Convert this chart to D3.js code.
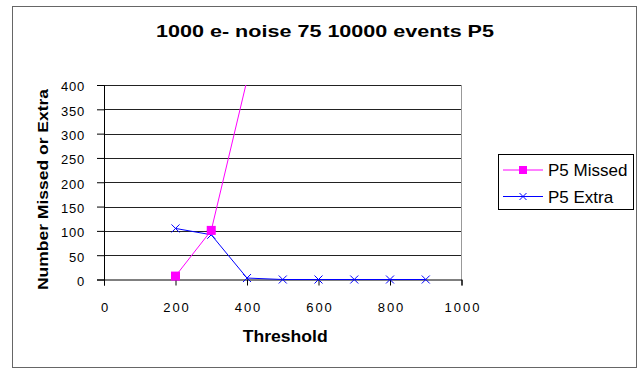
<!DOCTYPE html>
<html>
<head>
<meta charset="utf-8">
<script src="https://cdn.jsdelivr.net/npm/d3@7"></script>
<style>
  body { margin: 0; background: #fff; }
  text { font-family: "Liberation Sans", Arial, sans-serif; }
</style>
</head>
<body>
<div class="chart"></div>
<script>

var thresholds = [200, 300, 400, 500, 600, 700, 800, 900];
var missedValues = [7, 101, 410];          // only first three thresholds, line leaves the plot after that
var extraValues = [105, 92, 3, 0, 0, 0, 0, 0];

var xTicks = [0, 200, 400, 600, 800, 1000];
var yTicks = [0, 50, 100, 150, 200, 250, 300, 350, 400];

var seriesNames = ["P5 Missed", "P5 Extra"];

var width = 641, height = 369;

var svg = d3.select('.chart').append('svg').attr('width', width).attr('height', height);

// outer chart border
svg.append("rect").attr("x", 12.5).attr("y", 6.5).attr("width", 624).attr("height", 361)
   .attr("fill", "none").attr("stroke", "#666");

var x = d3.scaleLinear().domain([0, 1000]).range([104, 461.5]);
var y = d3.scaleLinear().domain([0, 400]).range([279.5, 85]);

// title
svg.append("text").attr("x", 156).attr("y", 37)
   .attr("font-size", "16.5px").attr("font-weight", "bold")
   .attr("textLength", 338).attr("lengthAdjust", "spacingAndGlyphs")
   .text("1000 e- noise 75 10000 events P5");

// gridlines
svg.append("g").selectAll("line").data(yTicks.filter(function(d){ return d > 0; })).enter().append("line")
   .attr("x1", x(0)).attr("x2", x(1000))
   .attr("y1", function(d){ return Math.round(y(d)) + 0.5; })
   .attr("y2", function(d){ return Math.round(y(d)) + 0.5; })
   .attr("stroke", "#222").attr("stroke-width", 1.2);

// plot right edge
svg.append("line").attr("x1", x(1000)).attr("x2", x(1000)).attr("y1", y(400)).attr("y2", y(0))
   .attr("stroke", "#999");

// y axis
var yAxis = svg.append("g").attr("transform", "translate(" + (x(0)) + ",0)")
   .call(d3.axisLeft(y).tickValues(yTicks).tickSize(7).tickPadding(12));
yAxis.select(".domain").attr("stroke", "#000");
yAxis.selectAll("text").attr("font-family", "Liberation Sans, Arial, sans-serif")
   .attr("font-size", "13px").attr("letter-spacing", "0.8px").attr("fill", "#000")
   .attr("dy", "0.45em");

// x axis
var xAxis = svg.append("g").attr("transform", "translate(0," + y(0) + ")")
   .call(d3.axisBottom(x).tickValues(xTicks).tickFormat(d3.format("d")).tickSize(6).tickPadding(17));
xAxis.select(".domain").attr("stroke", "#000");
xAxis.selectAll("text").attr("font-family", "Liberation Sans, Arial, sans-serif")
   .attr("font-size", "13px").attr("letter-spacing", "2px").attr("fill", "#000")
   .attr("dx", "1px");

// axis titles
svg.append("text").attr("x", 242.7).attr("y", 342)
   .attr("font-size", "16px").attr("font-weight", "bold")
   .attr("textLength", 85).attr("lengthAdjust", "spacingAndGlyphs")
   .text("Threshold");

svg.append("text").attr("transform", "translate(47.5,290) rotate(-90)")
   .attr("font-size", "14.5px").attr("font-weight", "bold")
   .attr("textLength", 201).attr("lengthAdjust", "spacingAndGlyphs")
   .text("Number Missed or Extra");

// clip to plot area
svg.append("defs").append("clipPath").attr("id", "plotClip").append("rect")
   .attr("x", x(0)).attr("y", y(400)).attr("width", x(1000) - x(0)).attr("height", y(0) - y(400) + 6);

var line = d3.line().x(function(d){ return x(d[0]); }).y(function(d){ return y(d[1]); });

var missedData = missedValues.map(function(v, i){ return [thresholds[i], v]; });
var extraData = extraValues.map(function(v, i){ return [thresholds[i], v]; });

var plot = svg.append("g").attr("clip-path", "url(#plotClip)");

plot.append("path").attr("d", line(missedData)).attr("fill", "none")
   .attr("stroke", "#ff00ff").attr("stroke-width", 1);

plot.append("path").attr("d", line(extraData)).attr("fill", "none")
   .attr("stroke", "#0000ff").attr("stroke-width", 1);

function drawX(g, cx, cy, s) {
  g.append("path").attr("d", "M" + (cx - s) + "," + (cy - s) + "L" + (cx + s) + "," + (cy + s) +
                              "M" + (cx - s) + "," + (cy + s) + "L" + (cx + s) + "," + (cy - s))
   .attr("stroke", "#0000ff").attr("stroke-width", 1).attr("fill", "none");
}

extraData.forEach(function(d){ drawX(plot, x(d[0]), y(d[1]), 4); });

plot.selectAll(".sq").data(missedData.filter(function(d){ return d[1] <= 400; })).enter().append("rect")
   .attr("x", function(d){ return x(d[0]) - 4.5; }).attr("y", function(d){ return y(d[1]) - 4.5; })
   .attr("width", 9).attr("height", 9).attr("fill", "#ff00ff");

// legend
var legend = svg.append("g");
legend.append("rect").attr("x", 498.5).attr("y", 154.5).attr("width", 135).attr("height", 55)
   .attr("fill", "#fff").attr("stroke", "#000");

var legY = [170, 196.5];
legend.append("line").attr("x1", 503).attr("x2", 543).attr("y1", legY[0]).attr("y2", legY[0]).attr("stroke", "#ff00ff");
legend.append("rect").attr("x", 519).attr("y", legY[0] - 4).attr("width", 8).attr("height", 8).attr("fill", "#ff00ff");
legend.append("line").attr("x1", 503).attr("x2", 543).attr("y1", legY[1]).attr("y2", legY[1]).attr("stroke", "#0000ff");
drawX(legend, 523, legY[1], 3.5);

legend.selectAll(".lt").data(seriesNames).enter().append("text")
   .attr("x", 548).attr("y", function(d, i){ return legY[i] + 6; })
   .attr("font-size", "17px").text(function(d){ return d; });

</script>
</body>
</html>
